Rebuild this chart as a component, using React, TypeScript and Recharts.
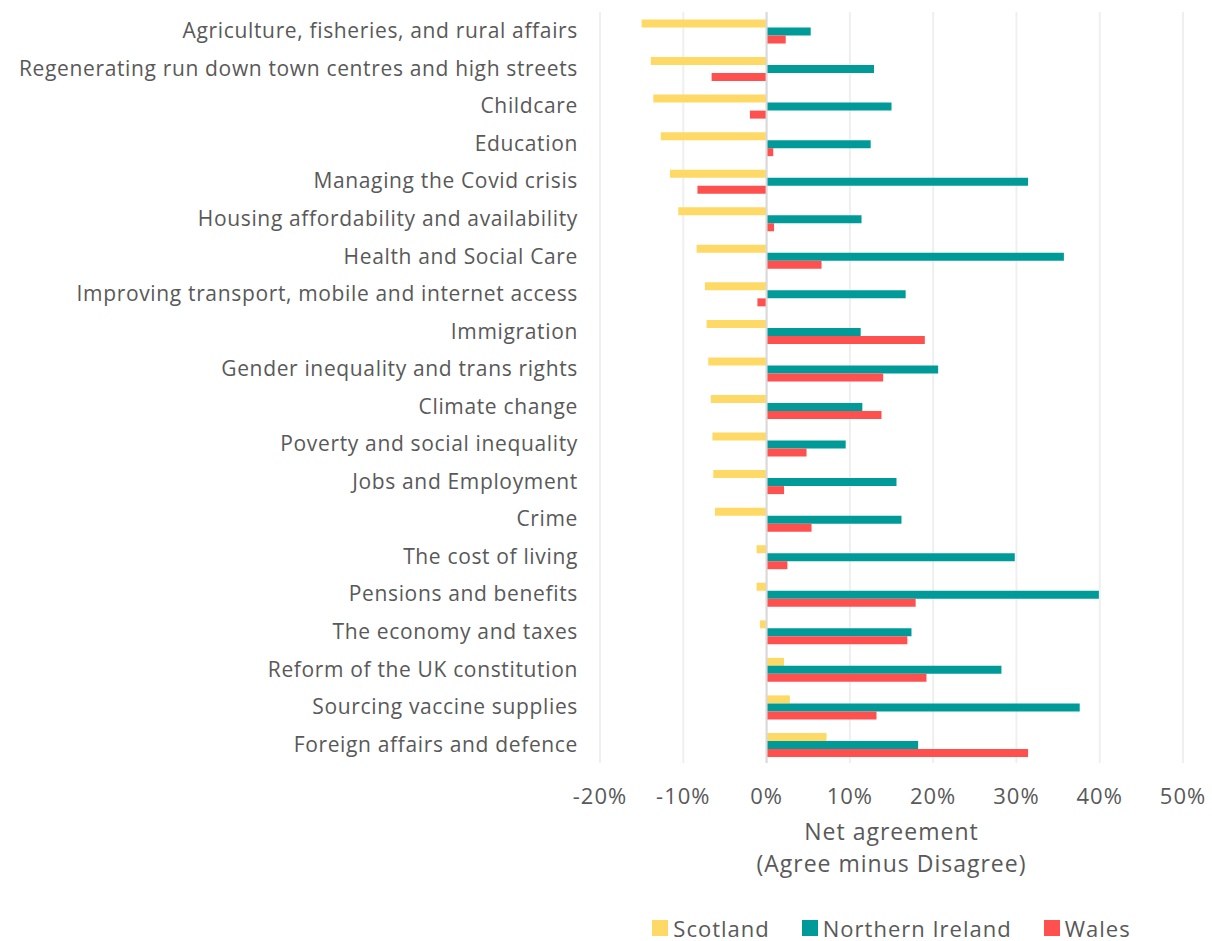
import { BarChart, Bar, XAxis, YAxis, CartesianGrid, ReferenceLine, Legend } from 'recharts';

const topics = [
  'Agriculture, fisheries, and rural affairs',
  'Regenerating run down town centres and high streets',
  'Childcare',
  'Education',
  'Managing the Covid crisis',
  'Housing affordability and availability',
  'Health and Social Care',
  'Improving transport, mobile and internet access',
  'Immigration',
  'Gender inequality and trans rights',
  'Climate change',
  'Poverty and social inequality',
  'Jobs and Employment',
  'Crime',
  'The cost of living',
  'Pensions and benefits',
  'The economy and taxes',
  'Reform of the UK constitution',
  'Sourcing vaccine supplies',
  'Foreign affairs and defence',
];

const scotland = [-15.0, -13.9, -13.6, -12.7, -11.6, -10.6, -8.4, -7.4, -7.2, -7.0, -6.7, -6.5, -6.4, -6.2, -1.2, -1.2, -0.8, 2.1, 2.8, 7.2];
const northernIreland = [5.3, 12.9, 15.0, 12.5, 31.4, 11.4, 35.7, 16.7, 11.3, 20.6, 11.5, 9.5, 15.6, 16.2, 29.8, 39.9, 17.4, 28.2, 37.6, 18.2];
const wales = [2.3, -6.6, -2.0, 0.8, -8.3, 0.9, 6.6, -1.1, 19.0, 14.0, 13.8, 4.8, 2.1, 5.4, 2.5, 17.9, 16.9, 19.2, 13.2, 31.4];

const xTicks = [-20, -10, 0, 10, 20, 30, 40, 50];

const series = [
  { key: 'scotland', name: 'Scotland', color: '#FFD966' },
  { key: 'northernIreland', name: 'Northern Ireland', color: '#009B98' },
  { key: 'wales', name: 'Wales', color: '#FF5050' },
];

const data = topics.map((topic, i) => ({
  topic,
  scotland: scotland[i],
  northernIreland: northernIreland[i],
  wales: wales[i],
}));

const FONT = '"Open Sans", Lato, sans-serif';
const TEXT = '#595959';

function AxisTitle({ viewBox }: { viewBox?: { x: number; y: number; width: number; height: number } }) {
  if (!viewBox) return null;
  const cx = viewBox.x + viewBox.width / 2;
  return (
    <g fontFamily={FONT} fontSize={23} fill={TEXT} textAnchor="middle" letterSpacing={1}>
      <text x={cx} y={viewBox.y + 77}>Net agreement</text>
      <text x={cx} y={viewBox.y + 109}>(Agree minus Disagree)</text>
    </g>
  );
}

function LegendContent() {
  return (
    <div style={{ display: 'flex', justifyContent: 'center', gap: 32, fontFamily: FONT, fontSize: 22, letterSpacing: 1, color: TEXT, height: 24, alignItems: 'center' }}>
      {series.map((s) => (
        <div key={s.key} style={{ display: 'flex', alignItems: 'center', gap: 5 }}>
          <span style={{ width: 16, height: 16, background: s.color, display: 'inline-block' }} />
          <span>{s.name}</span>
        </div>
      ))}
    </div>
  );
}

export default function App() {
  return (
    <>
      <style>{'body { margin: 0; }'}</style>
      <BarChart
        width={1212}
        height={941}
        data={data}
        layout="vertical"
        margin={{ top: 12, right: 29, left: 0, bottom: 0 }}
        barCategoryGap="20%"
        barGap={0}
      >
        <CartesianGrid horizontal={false} stroke="#efefef" strokeWidth={2} />
        <XAxis
          type="number"
          domain={[-20, 50]}
          ticks={xTicks}
          tickFormatter={(v) => `${v}%`}
          axisLine={false}
          tickLine={false}
          tickMargin={19}
          height={154}
          tick={{ fontSize: 22, fill: TEXT, fontFamily: FONT, letterSpacing: 1 }}
          label={{ content: <AxisTitle /> }}
        />
        <YAxis
          type="category"
          dataKey="topic"
          width={600}
          axisLine={false}
          tickLine={false}
          tickMargin={16}
          interval={0}
          tick={{ fontSize: 21, fill: TEXT, fontFamily: FONT, letterSpacing: 0.65 }}
        />
        <ReferenceLine x={0} stroke="#d9d9d9" strokeWidth={2} />
        {series.map((s) => (
          <Bar key={s.key} dataKey={s.key} name={s.name} fill={s.color} isAnimationActive={false} />
        ))}
        <Legend
          verticalAlign="bottom"
          content={<LegendContent />}
          wrapperStyle={{ left: 600, width: 583, bottom: 1 }}
        />
      </BarChart>
    </>
  );
}
